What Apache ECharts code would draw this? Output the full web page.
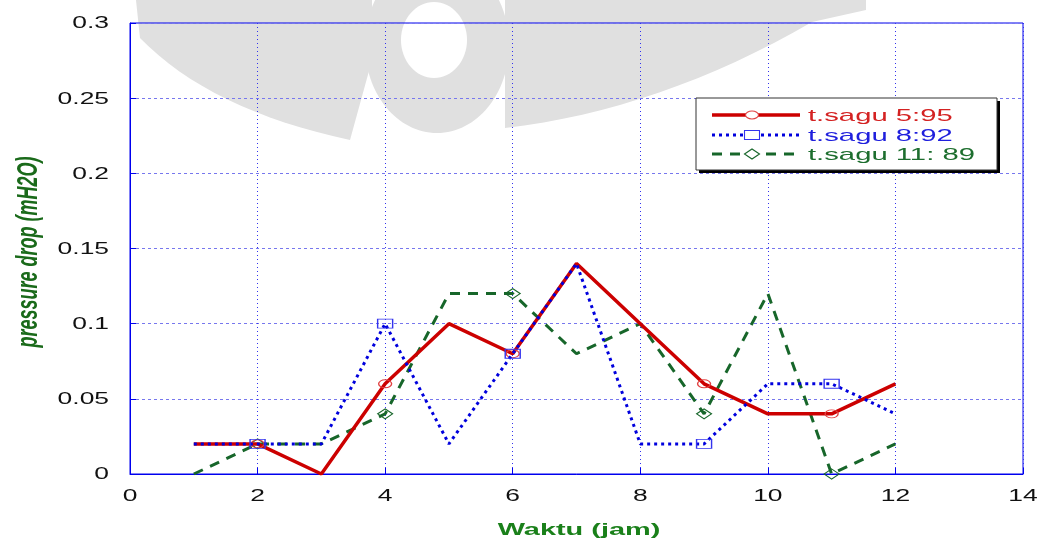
<!DOCTYPE html>
<html><head><meta charset="utf-8">
<script src="https://cdn.jsdelivr.net/npm/echarts@6/dist/echarts.min.js"></script>
<style>html,body{margin:0;padding:0;background:#fff}#c{width:1044px;height:541px}</style>
</head><body><div id="c"></div>
<script>
const xValues = [1,2,3,4,5,6,7,8,9,10,11,12];
const sagu595 = [0.02,0.02,0,0.06,0.10,0.08,0.14,0.10,0.06,0.04,0.04,0.06];
const sagu892 = [0.02,0.02,0.02,0.10,0.02,0.08,0.14,0.02,0.02,0.06,0.06,0.04];
const sagu1189 = [0,0.02,0.02,0.04,0.12,0.12,0.08,0.10,0.04,0.12,0,0.02];
const markerX = [2,4,6,9,11];
const seriesNames = ['t.sagu 5:95','t.sagu 8:92','t.sagu 11: 89'];
const xTicks = [0,2,4,6,8,10,12,14];
const yTicks = [0,0.05,0.1,0.15,0.2,0.25,0.3];
const yTickLabels = ['0','0.05','0.1','0.15','0.2','0.25','0.3'];
const xTitle = 'Waktu (jam)';
const yTitle = 'pressure drop (mH2O)';

const STRETCH = 1.65;
const colors = ['#cc0000','#0000dd','#17662a'];
const markerColors = ['#e04040','#3333ee','#17662a'];
const textColors = ['#d42222','#1f1fdd','#1d6e2e'];
const symbols = ['circle','rect','diamond'];
const symbolSizes = [[13,8],[15,9],[15,10]];
const lineTypes = ['solid',[3,4],[10,8]];
const lineWidths = [3.5,3,3];

function build(vals){
  return xValues.map((x,i)=>({value:[x,vals[i]], symbol: markerX.includes(x)?undefined:'none'}));
}
const allData = [sagu595, sagu892, sagu1189];

const chart = echarts.init(document.getElementById('c'));
chart.setOption({
  animation:false,
  grid:{left:130,right:21,top:23,bottom:67,show:true,borderColor:'#0000ee',borderWidth:1},
  xAxis:{type:'value',min:0,max:14,interval:2,
    axisLine:{lineStyle:{color:'#0000ee'}},
    axisTick:{inside:true,length:6,lineStyle:{color:'#0000ee'}},
    splitLine:{show:true,lineStyle:{color:'#3333ee',type:[1,3],width:1}},
    axisLabel:{show:false}},
  yAxis:{type:'value',min:0,max:0.3,interval:0.05,
    axisLine:{lineStyle:{color:'#0000ee'}},
    axisTick:{inside:true,length:6,lineStyle:{color:'#0000ee'}},
    splitLine:{show:true,lineStyle:{color:'#7777ee',type:[3,3],width:1}},
    axisLabel:{show:false}},
  series: allData.map((d,i)=>({
    name:seriesNames[i],type:'line',data:build(d),symbol:symbols[i],symbolSize:symbolSizes[i],showAllSymbol:true,
    lineStyle:{color:colors[i],width:lineWidths[i],type:lineTypes[i]},
    itemStyle:{color:'rgba(255,255,255,0)',borderColor:markerColors[i],borderWidth:1.1},
    z:[3,4,2][i]
  }))
});

const g = [];
// faint watermark in the background (decorative)
function quad(p0,c,p1,n){const pts=[];for(let k=0;k<=n;k++){const t=k/n;pts.push([(1-t)*(1-t)*p0[0]+2*(1-t)*t*c[0]+t*t*p1[0],(1-t)*(1-t)*p0[1]+2*(1-t)*t*c[1]+t*t*p1[1]]);}return pts;}
const wm = '#e0e0e0';
g.push({type:'polygon',z:-10,shape:{points:[[136,0]].concat(quad([140,38],[210,110],[350,140],16),[[372,60],[372,0]])},style:{fill:wm}});
g.push({type:'polygon',z:-10,shape:{points:[[505,0]].concat(quad([505,128],[660,110],[812,22],16),[[866,10],[866,0]])},style:{fill:wm}});
g.push({type:'ellipse',z:-10,shape:{cx:437,cy:45,rx:72,ry:88},style:{fill:wm}});
g.push({type:'ellipse',z:-9,shape:{cx:434,cy:40,rx:33,ry:38},style:{fill:'#fff'}});

xTicks.forEach((v)=>{
  const p = chart.convertToPixel({gridIndex:0},[v,0]);
  g.push({type:'text',x:p[0],y:497,scaleX:STRETCH,style:{text:String(v),fill:'#111',font:'16px "Liberation Sans", Arial',align:'center',verticalAlign:'middle'}});
});
yTicks.forEach((v,i)=>{
  const p = chart.convertToPixel({gridIndex:0},[0,v]);
  g.push({type:'text',x:109,y:p[1]+1,scaleX:STRETCH,style:{text:yTickLabels[i],fill:'#111',font:'16px "Liberation Sans", Arial',align:'right',verticalAlign:'middle'}});
});
g.push({type:'text',x:579,y:530,scaleX:1.7,style:{text:xTitle,fill:'#1a801a',font:'bold 17px "Liberation Sans", Arial',align:'center',verticalAlign:'middle'}});
g.push({type:'text',x:29,y:252,rotation:Math.PI/2,scaleY:1.6,style:{text:yTitle,fill:'#1a6a1a',font:'italic bold 18px "Liberation Sans Narrow", "Liberation Sans", Arial',align:'center',verticalAlign:'middle'}});

const LX=696, LY=98, LW=301, LH=72;
g.push({type:'rect',shape:{x:LX+3,y:LY+3,width:LW,height:LH},style:{fill:'#000'},z:50});
g.push({type:'rect',shape:{x:LX,y:LY,width:LW,height:LH},style:{fill:'#fff',stroke:'#333',lineWidth:1},z:51});
const rowY=[115,135,154];
seriesNames.forEach((n,i)=>{
  g.push({type:'line',shape:{x1:712,y1:rowY[i],x2:800,y2:rowY[i]},style:{stroke:colors[i],lineWidth:lineWidths[i],lineDash:lineTypes[i]==='solid'?null:lineTypes[i]},z:52});
  const s = symbolSizes[i];
  let shape;
  if(i===0) shape={type:'ellipse',shape:{cx:752,cy:rowY[i],rx:s[0]/2,ry:s[1]/2}};
  else if(i===1) shape={type:'rect',shape:{x:752-s[0]/2,y:rowY[i]-s[1]/2,width:s[0],height:s[1]}};
  else shape={type:'polygon',shape:{points:[[752-s[0]/2,rowY[i]],[752,rowY[i]-s[1]/2],[752+s[0]/2,rowY[i]],[752,rowY[i]+s[1]/2]]}};
  shape.style={fill:'#fff',stroke:markerColors[i],lineWidth:1.1}; shape.z=53;
  g.push(shape);
  g.push({type:'text',x:808,y:rowY[i]+1,scaleX:1.72,z:53,style:{text:n,fill:textColors[i],font:'17px "Liberation Sans", Arial',align:'left',verticalAlign:'middle'}});
});
chart.setOption({graphic:g});
</script></body></html>
